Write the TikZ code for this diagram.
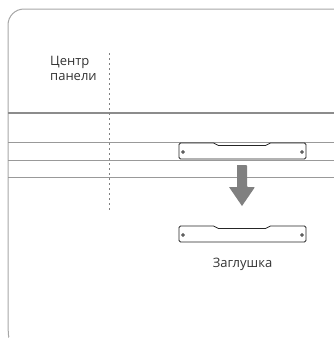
\documentclass[tikz,border=0pt]{standalone}
\usepackage{fontspec}
\setmainfont{Open Sans}
\tikzset{label/.style={text=black!80, font=\fontsize{13pt}{15pt}\selectfont, inner sep=0pt},
frame/.style={draw=black!35, line width=1pt},
rail/.style={draw=black!40, line width=0.8pt},
plate/.pic={
\draw[black!85, line width=0.8pt, rounded corners=1.5pt, fill=white] (0,0) -- (36,0) -- (38,2.5) -- (88,2.5) -- (90,0) -- (127,0) -- (127,16) -- (0,16) -- cycle;
\draw[black!85, line width=0.7pt] (4,9) circle (1.4) (123,9) circle (1.4);
}
}

\begin{document}
\begin{tikzpicture}[x=1pt, y=-1pt]
\useasboundingbox (0,0) rectangle (334,338);

\draw[frame] (9,336) to[out=-100, in=90] (8,325) -- (8,25) to[out=90, in=180] (24,9) -- (334,9);

%rails
\draw[rail, line width=1.8pt, draw=black!45] (8,113) -- (334,113);
\draw[rail] (8,142.5) -- (334,142.5);
\draw[rail] (8,160) -- (334,160);
\draw[rail] (8,177) -- (334,177);

\draw[black!50, line width=0.9pt, dash pattern=on 2pt off 3pt] (109,53) -- (109,210);

\node[label, anchor=base west, align=left] (center) at (50,80) {Центр\\панели};

\pic at (179,143) {plate};
\pic at (179,226) {plate};

%arrow
\fill[black!50, rounded corners=0.8pt] (237,165) -- (247,165) -- (247,187) -- (255,187) [sharp corners] -- (242,206) -- (229,187) -- (237,187) -- cycle;

\node[label, anchor=base] (cap) at (242.5,267) {Заглушка};
\end{tikzpicture}
\end{document}
